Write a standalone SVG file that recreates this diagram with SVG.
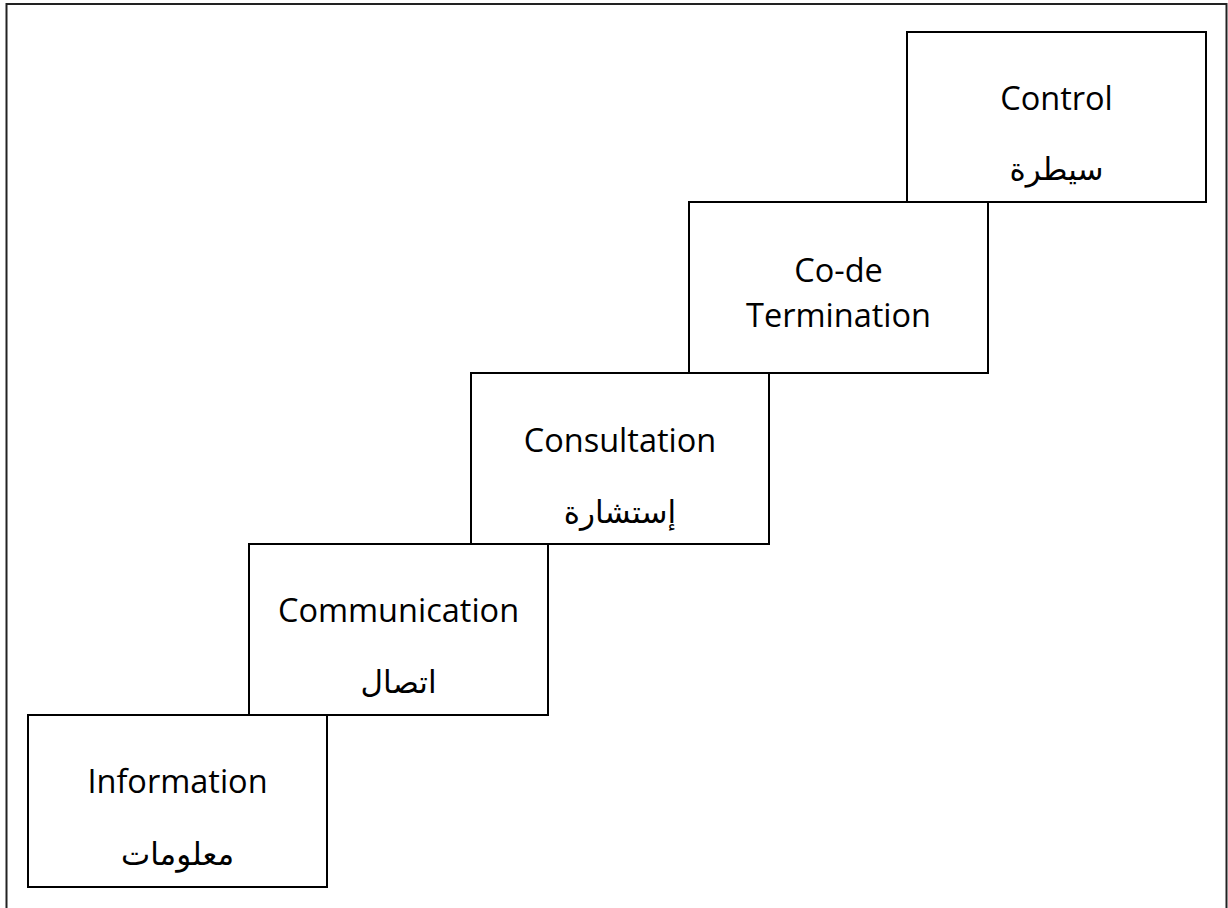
<svg xmlns="http://www.w3.org/2000/svg" width="1228" height="908" viewBox="0 0 1228 908">
<style>
.box{fill:#fff;stroke:#000;stroke-width:2}
.en{font-family:"Open Sans","Noto Sans",sans-serif;font-size:32.5px;fill:#000;text-anchor:middle}
.ar{font-family:"DejaVu Sans","Noto Sans",sans-serif;font-size:31px;fill:#000;text-anchor:middle}
</style>
<rect x="0" y="0" width="1228" height="908" fill="#fff"/>
<g id="frame">
<path d="M6.5 912 V4 H1226.5 V912" fill="none" stroke="#222" stroke-width="2"/>
</g>
<g id="connectors"></g>
<g id="control">
<rect class="box" x="907" y="32" width="299" height="170"/>
<text class="en" x="1056.5" y="110">Control</text>
<text class="ar" x="1056.5" y="180" direction="rtl">سيطرة</text>
</g>
<g id="codetermination">
<rect class="box" x="689" y="202" width="299" height="171"/>
<text class="en" x="838.5" y="282">Co-de</text>
<text class="en" x="838.5" y="327">Termination</text>
</g>
<g id="consultation">
<rect class="box" x="471" y="373" width="298" height="171"/>
<text class="en" x="620" y="452">Consultation</text>
<text class="ar" x="620" y="523" direction="rtl">إستشارة</text>
</g>
<g id="communication">
<rect class="box" x="249" y="544" width="299" height="171"/>
<text class="en" x="398.5" y="622">Communication</text>
<text class="ar" x="398.5" y="693" direction="rtl">اتصال</text>
</g>
<g id="information">
<rect class="box" x="28" y="715" width="299" height="172"/>
<text class="en" x="177.5" y="793">Information</text>
<text class="ar" x="177.5" y="865" direction="rtl">معلومات</text>
</g>
</svg>
